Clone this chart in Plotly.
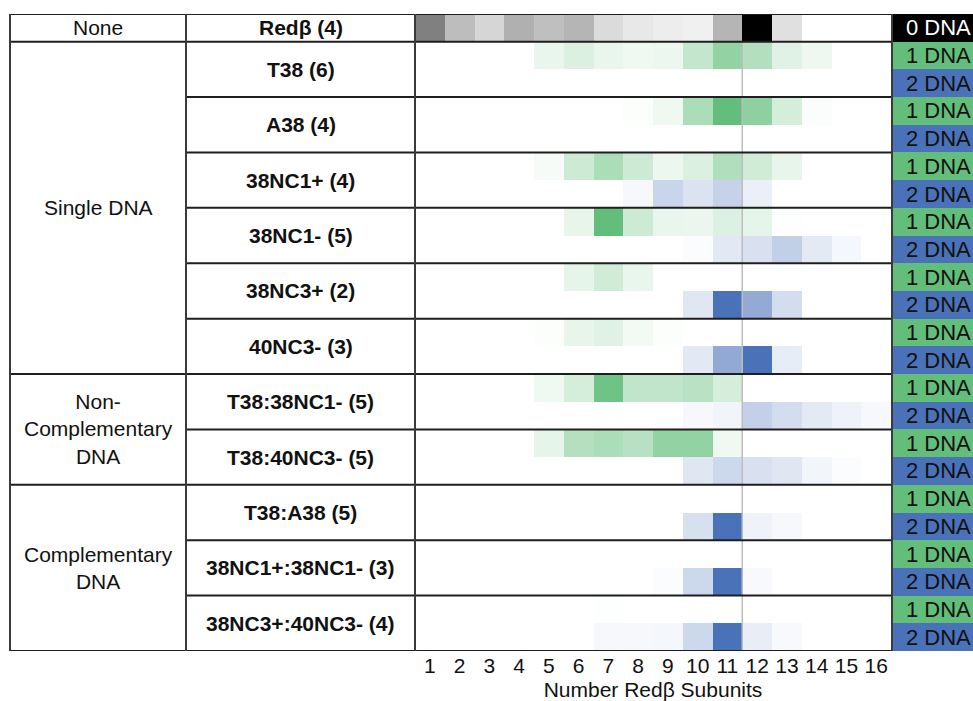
import numpy as np
import plotly.graph_objects as go

W, H = 973, 701

# ---------------- data ----------------
subunit_ticks = ["1", "2", "3", "4", "5", "6", "7", "8", "9", "10", "11", "12", "13", "14", "15", "16"]

samples = ["T38 (6)", "A38 (4)", "38NC1+ (4)", "38NC1- (5)", "38NC3+ (2)", "40NC3- (3)",
           "T38:38NC1- (5)", "T38:40NC3- (5)",
           "T38:A38 (5)", "38NC1+:38NC1- (3)", "38NC3+:40NC3- (4)"]

group_names = ["Single DNA", "Non-<br>Complementary<br>DNA", "Complementary<br>DNA"]
group_sizes = [6, 2, 3]

header_group = "None"
header_sample = "Redβ (4)"

# Redβ alone (0 DNA), grey intensity per subunit count
redb_none = [0.50, 0.26, 0.16, 0.31, 0.25, 0.29, 0.14, 0.09, 0.07, 0.06, 0.29, 1.00, 0.12, 0.0, 0.0, 0.0]

# relative abundance of complexes bound to 1 DNA, per subunit count
one_dna = [
    [0, 0, 0, 0, 0.14, 0.23, 0.14, 0.10, 0.12, 0.38, 0.70, 0.49, 0.20, 0.11, 0, 0],   # T38
    [0, 0, 0, 0, 0, 0, 0, 0.02, 0.10, 0.53, 1.00, 0.72, 0.27, 0.03, 0, 0],            # A38
    [0, 0, 0, 0, 0.06, 0.32, 0.53, 0.32, 0.12, 0.23, 0.50, 0.30, 0.15, 0, 0, 0],      # 38NC1+
    [0, 0, 0, 0, 0, 0.15, 1.00, 0.32, 0.14, 0.13, 0.22, 0.16, 0.01, 0, 0, 0],         # 38NC1-
    [0, 0, 0, 0, 0, 0.16, 0.30, 0.14, 0, 0, 0, 0, 0, 0, 0, 0],                        # 38NC3+
    [0, 0, 0, 0, 0.02, 0.15, 0.20, 0.08, 0.02, 0, 0, 0, 0, 0, 0, 0],                  # 40NC3-
    [0, 0, 0, 0, 0.10, 0.27, 0.92, 0.40, 0.40, 0.45, 0.27, 0, 0, 0, 0, 0],            # T38:38NC1-
    [0, 0, 0, 0, 0.16, 0.48, 0.53, 0.46, 0.70, 0.70, 0.10, 0, 0, 0, 0, 0],            # T38:40NC3-
    [0, 0, 0, 0, 0, 0, 0, 0, 0, 0, 0, 0, 0, 0, 0, 0],                                 # T38:A38
    [0, 0, 0, 0, 0, 0, 0, 0, 0, 0, 0, 0, 0, 0, 0, 0],                                 # 38NC1+:38NC1-
    [0, 0, 0, 0, 0, 0, 0.01, 0, 0, 0, 0, 0, 0, 0, 0, 0],                              # 38NC3+:40NC3-
]

# relative abundance of complexes bound to 2 DNA, per subunit count
two_dna = [
    [0, 0, 0, 0, 0, 0, 0, 0, 0, 0, 0, 0, 0, 0, 0, 0],                                 # T38
    [0, 0, 0, 0, 0, 0, 0, 0, 0, 0, 0, 0, 0, 0, 0, 0],                                 # A38
    [0, 0, 0, 0, 0, 0, 0, 0.05, 0.30, 0.20, 0.32, 0.11, 0, 0, 0, 0],                  # 38NC1+
    [0, 0, 0, 0, 0, 0, 0, 0, 0, 0.02, 0.16, 0.21, 0.34, 0.15, 0.06, 0],               # 38NC1-
    [0, 0, 0, 0, 0, 0, 0, 0, 0, 0.17, 1.00, 0.60, 0.24, 0, 0, 0],                     # 38NC3+
    [0, 0, 0, 0, 0, 0, 0, 0, 0, 0.16, 0.61, 1.00, 0.13, 0, 0, 0],                     # 40NC3-
    [0, 0, 0, 0, 0, 0, 0, 0, 0, 0.05, 0.08, 0.33, 0.24, 0.15, 0.09, 0.05],            # T38:38NC1-
    [0, 0, 0, 0, 0, 0, 0, 0, 0, 0.17, 0.28, 0.21, 0.17, 0.07, 0.02, 0],               # T38:40NC3-
    [0, 0, 0, 0, 0, 0, 0, 0, 0, 0.22, 1.00, 0.09, 0.05, 0, 0, 0],                     # T38:A38
    [0, 0, 0, 0, 0, 0, 0, 0, 0.02, 0.28, 1.00, 0.04, 0, 0, 0, 0],                     # 38NC1+:38NC1-
    [0, 0, 0, 0, 0, 0, 0.05, 0.05, 0.06, 0.28, 1.00, 0.12, 0.04, 0, 0, 0],            # 38NC3+:40NC3-
]

dna_states = ["0 DNA", "1 DNA", "2 DNA"]

# ---------------- styling ----------------
GREEN = "#63be7b"
BLUE = "#4a72b8"
FONT = "Arial, Liberation Sans, sans-serif"
LINE = "#1e1e1e"
VLINE = "#3a3a3a"
FS = 21

n_rows = 1 + 2 * len(samples)
ncol = len(subunit_ticks)
xs = list(range(1, ncol + 1))
ys = list(range(n_rows))

z_grey = np.full((n_rows, ncol), np.nan)
z_green = np.full((n_rows, ncol), np.nan)
z_blue = np.full((n_rows, ncol), np.nan)
z_grey[0] = redb_none
for i in range(len(samples)):
    z_green[1 + 2 * i] = one_dna[i]
    z_blue[2 + 2 * i] = two_dna[i]

row_state = [0] + [1, 2] * len(samples)

fig = go.Figure()
common = dict(x=xs, y=ys, zmin=0, zmax=1, showscale=False, hoverongaps=False)
fig.add_trace(go.Heatmap(z=z_grey, colorscale=[[0, "#ffffff"], [1, "#000000"]], name="0 DNA", **common))
fig.add_trace(go.Heatmap(z=z_green, colorscale=[[0, "#ffffff"], [1, GREEN]], name="1 DNA", **common))
fig.add_trace(go.Heatmap(z=z_blue, colorscale=[[0, "#ffffff"], [1, BLUE]], name="2 DNA", **common))

# DNA-state label column
fig.add_trace(go.Heatmap(
    z=[[s] for s in row_state], x=[0], y=ys, xaxis="x2", yaxis="y",
    zmin=0, zmax=2, showscale=False, hoverinfo="skip",
    colorscale=[[0, "#000000"], [0.25, "#000000"], [0.25, GREEN], [0.75, GREEN], [0.75, BLUE], [1, BLUE]],
))

px = lambda p: p / W
py = lambda p: 1 - p / H

X_LEFT, X_COL2, X_HM0, X_HM1 = 10, 186, 415, 891

fig.update_layout(
    width=W, height=H,
    margin=dict(l=0, r=0, t=0, b=0),
    paper_bgcolor="white", plot_bgcolor="white",
    font=dict(family=FONT, size=FS, color="#111111"),
    xaxis=dict(domain=[px(X_HM0), px(X_HM1)], range=[0.5, ncol + 0.5],
               tickvals=xs, ticktext=subunit_ticks, ticks="", showgrid=False, zeroline=False,
               showline=False, tickfont=dict(size=21, color="#111111"), automargin=False,
               title=dict(text="Number Redβ Subunits", font=dict(size=21, color="#111111"), standoff=7)),
    yaxis=dict(domain=[py(651), py(14)], range=[n_rows - 0.5, -0.5], visible=False,
               showgrid=False, zeroline=False),
    xaxis2=dict(domain=[px(X_HM1 + 1), 1], range=[-0.5, 0.5], visible=False, anchor="y"),
    showlegend=False,
)

shapes = []
# vertical reference line between 11 and 12 subunits
shapes.append(dict(type="line", xref="x", yref="y", x0=11.5, x1=11.5, y0=0.5, y1=n_rows - 0.5,
                   line=dict(color="#bdbdbd", width=1.5)))
# horizontal rule lines
full_rows = [-0.5, 0.5]
cum = 0
for s in group_sizes:
    cum += s
    full_rows.append(0.5 + 2 * cum)
for i in range(1, len(samples)):
    yv = 0.5 + 2 * i
    if yv not in full_rows:
        shapes.append(dict(type="line", xref="paper", yref="y", x0=px(X_COL2), x1=px(X_HM1 + 1),
                           y0=yv, y1=yv, line=dict(color=LINE, width=2)))
for yv in full_rows:
    shapes.append(dict(type="line", xref="paper", yref="y", x0=px(X_LEFT), x1=px(X_HM1 + 1),
                       y0=yv, y1=yv, line=dict(color=LINE, width=2)))
# vertical rule lines
for xv in [X_LEFT, X_COL2, X_HM0, X_HM1 + 1]:
    shapes.append(dict(type="line", xref="paper", yref="y", x0=px(xv), x1=px(xv),
                       y0=-0.5, y1=n_rows - 0.5, line=dict(color=VLINE, width=2)))
fig.update_layout(shapes=shapes)

ann = []
cx1 = px((X_LEFT + X_COL2) / 2)
cx2 = px((X_COL2 + X_HM0) / 2)
base = dict(xref="paper", yref="y", showarrow=False, xanchor="center", yanchor="middle")
ann.append(dict(x=cx1, y=0, text=header_group, font=dict(size=FS), **base))
ann.append(dict(x=cx2, y=0, text="<b>%s</b>" % header_sample, font=dict(size=FS), **base))
for i, s in enumerate(samples):
    ann.append(dict(x=cx2, y=1.5 + 2 * i, text="<b>%s</b>" % s, font=dict(size=FS), **base))
start = 0
for g, s in zip(group_names, group_sizes):
    y0 = 0.5 + 2 * start
    y1 = 0.5 + 2 * (start + s)
    ann.append(dict(x=cx1, y=(y0 + y1) / 2, text=g, font=dict(size=FS), **base))
    start += s
for r, st in enumerate(row_state):
    ann.append(dict(x=px(904), y=r, xref="paper", yref="y", xanchor="left", yanchor="middle",
                    text=dna_states[st], showarrow=False,
                    font=dict(size=22, color="#ffffff" if st == 0 else "#111111")))
fig.update_layout(annotations=ann)

fig.write_html("out.html")
